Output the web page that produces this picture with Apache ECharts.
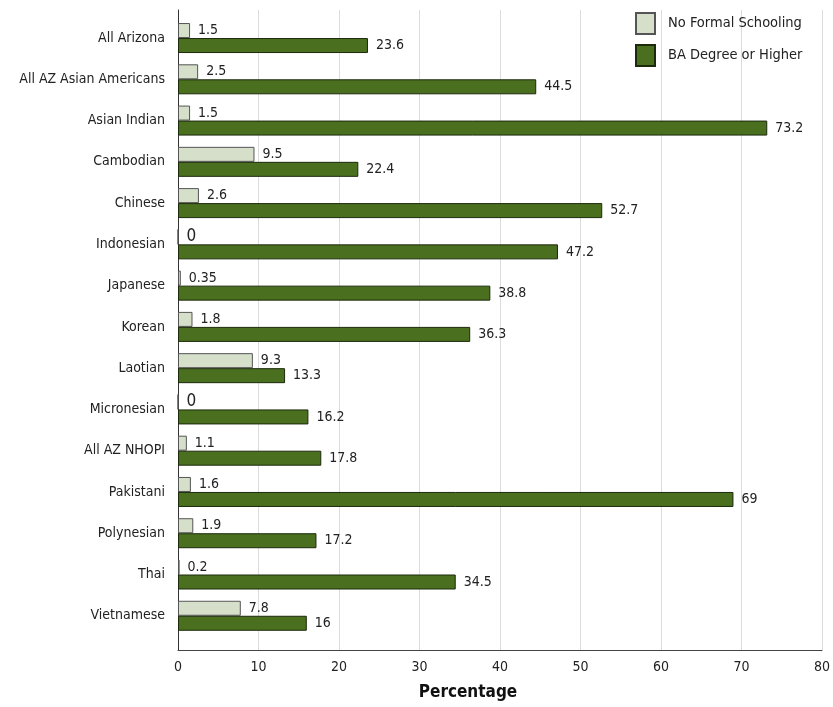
<!DOCTYPE html>
<html>
<head>
<meta charset="utf-8">
<script src="https://cdn.jsdelivr.net/npm/echarts@6/dist/echarts.min.js"></script>
<style>
  html, body { margin: 0; padding: 0; background: #fff; }
  #chart { width: 833px; height: 707px; }
</style>
</head>
<body>
<div id="chart"></div>
<script>
// Education attainment by group (percent)
const categories = [
  'All Arizona', 'All AZ Asian Americans', 'Asian Indian', 'Cambodian', 'Chinese',
  'Indonesian', 'Japanese', 'Korean', 'Laotian', 'Micronesian',
  'All AZ NHOPI', 'Pakistani', 'Polynesian', 'Thai', 'Vietnamese'
];
const noFormalSchooling = [1.5, 2.5, 1.5, 9.5, 2.6, 0, 0.35, 1.8, 9.3, 0, 1.1, 1.6, 1.9, 0.2, 7.8];
const baDegreeOrHigher = [23.6, 44.5, 73.2, 22.4, 52.7, 47.2, 38.8, 36.3, 13.3, 16.2, 17.8, 69, 17.2, 34.5, 16];
const xTicks = { min: 0, max: 80, interval: 10 };

const FONT = '"DejaVu Sans Condensed", "Liberation Sans Narrow", "Liberation Sans", sans-serif';
const LIGHT = '#d5dfca';
const DARK = '#4a6f1e';

const chart = echarts.init(document.getElementById('chart'), null, { renderer: 'canvas' });

const valueLabel = {
  show: true, position: 'right', distance: 8,
  color: '#222', fontFamily: FONT, fontSize: 14
};

chart.setOption({
  animation: false,
  textStyle: { fontFamily: FONT },
  legend: {
    orient: 'vertical',
    left: 630, top: 7,
    icon: 'rect',
    itemWidth: 19, itemHeight: 21, itemGap: 9,
    textStyle: { fontFamily: FONT, fontSize: 14.5, color: '#222', padding: [0, 0, 0, 8] },
    data: ['No Formal Schooling', 'BA Degree or Higher']
  },
  grid: [
    { left: 178, right: 11, top: 10, bottom: 57 },
    { left: 178, right: 11, top: 17.4, bottom: 70.6 }
  ],
  xAxis: [
    {
      gridIndex: 0, type: 'value', min: xTicks.min, max: xTicks.max, interval: xTicks.interval,
      axisLine: { show: true, onZero: false, lineStyle: { color: '#444', width: 1 } },
      axisTick: { show: false },
      axisLabel: { color: '#222', fontSize: 14, fontFamily: FONT, margin: 10 },
      splitLine: { show: true, lineStyle: { color: '#dcdcdc', width: 1 } }
    },
    {
      gridIndex: 1, type: 'value', min: xTicks.min, max: xTicks.max, show: false
    }
  ],
  yAxis: [
    {
      gridIndex: 0, type: 'value', min: 0, max: 1,
      axisLine: { show: true, lineStyle: { color: '#333', width: 1 } },
      axisTick: { show: false }, axisLabel: { show: false }, splitLine: { show: false }
    },
    {
      gridIndex: 1, type: 'category', inverse: true, data: categories,
      axisLine: { show: false }, axisTick: { show: false },
      axisLabel: { color: '#222', fontSize: 14, fontFamily: FONT, margin: 13 }
    }
  ],
  series: [
    {
      name: 'No Formal Schooling', type: 'bar', xAxisIndex: 1, yAxisIndex: 1,
      barWidth: 15, barGap: '0%',
      itemStyle: { color: LIGHT, borderColor: '#555', borderWidth: 1 },
      label: valueLabel,
      data: noFormalSchooling.map(v => v === 0 ? { value: v, label: { fontSize: 17 } } : v)
    },
    {
      name: 'BA Degree or Higher', type: 'bar', xAxisIndex: 1, yAxisIndex: 1,
      barWidth: 15, barGap: '0%',
      itemStyle: { color: DARK, borderColor: '#1c2a0c', borderWidth: 1 },
      label: valueLabel,
      data: baDegreeOrHigher
    }
  ],
  graphic: [
    {
      type: 'text', x: 468, y: 693,
      style: {
        text: 'Percentage', align: 'center', verticalAlign: 'middle',
        fontFamily: FONT, fontSize: 17, fontWeight: 'bold', fill: '#111'
      }
    }
  ]
});
</script>
</body>
</html>
